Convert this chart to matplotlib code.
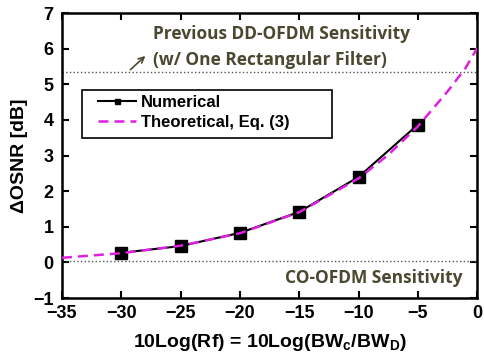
import matplotlib.pyplot as plt
from matplotlib.patches import Rectangle

# numerical result (squares)
rf_num = [-30, -25, -20, -15, -10, -5]
dosnr_num = [0.27, 0.46, 0.83, 1.42, 2.40, 3.87]

# theoretical curve, Eq. (3)
rf_theo = [-35, -30, -25, -20, -15, -10, -7.5, -5, -2.5, -1, 0]
dosnr_theo = [0.13, 0.26, 0.47, 0.82, 1.41, 2.36, 3.02, 3.82, 4.80, 5.45, 6.02]

dd_level = 5.34
co_level = 0.05

text_col = '#4a4830'

plt.rcParams['font.family'] = ['Liberation Sans', 'DejaVu Sans']
plt.rcParams['font.weight'] = 'bold'
plt.rcParams['mathtext.fontset'] = 'custom'
plt.rcParams['mathtext.rm'] = 'Liberation Sans:bold'
plt.rcParams['mathtext.bf'] = 'Liberation Sans:bold'

fig = plt.figure(figsize=(4.84, 3.54), dpi=100)
ax = fig.add_axes([0.128, 0.158, 0.858, 0.805])

ax.axhline(dd_level, color='#555555', ls=':', lw=1.0)
ax.axhline(co_level, color='#555555', ls=':', lw=1.0)

ax.plot(rf_num, dosnr_num, color='black', lw=1.5, marker='s', markersize=8,
        label='Numerical', zorder=3)
ax.plot(rf_theo, dosnr_theo, color='#e020e0', lw=1.8, ls=(0, (4, 2.4)),
        label='Theoretical, Eq. (3)', zorder=4)

annot_font = ['Open Sans', 'DejaVu Sans']
ax.text(-27.3, 6.42, 'Previous DD-OFDM Sensitivity', color=text_col,
        fontsize=12.5, fontweight='bold', family=annot_font,
        ha='left', va='center')
ax.text(-27.3, 5.68, '(w/ One Rectangular Filter)', color=text_col,
        fontsize=12.5, fontweight='bold', family=annot_font,
        ha='left', va='center')
ax.annotate('', xy=(-27.8, 5.85), xytext=(-29.4, 5.36),
            arrowprops=dict(arrowstyle='->', color=text_col, lw=1.2))
ax.text(-1.2, -0.45, 'CO-OFDM Sensitivity', color=text_col,
        fontsize=12.5, fontweight='bold', family=annot_font,
        ha='right', va='center')

ax.set_xlim(-35, 0)
ax.set_ylim(-1, 7)
ax.set_xticks(range(-35, 1, 5))
ax.set_yticks(range(-1, 8))
ax.tick_params(direction='in', top=True, right=True, labelsize=13,
               width=1.5, length=5)
ax.tick_params(axis='x', pad=5)
ax.tick_params(axis='y', pad=6)
for sp in ax.spines.values():
    sp.set_linewidth(1.8)

ax.set_xlabel(r'10Log(Rf) = 10Log(BW$_\mathrm{c}$/BW$_\mathrm{D}$)',
              fontsize=14, fontweight='bold', labelpad=7)
ax.set_ylabel('\u0394OSNR [dB]', fontsize=14, fontweight='bold', labelpad=4)

# the original legend box runs well past the text, so draw the box by hand
box = Rectangle((0.048, 0.56), 0.603, 0.171, transform=ax.transAxes,
                facecolor='white', edgecolor='black', lw=1.2, zorder=5)
ax.add_patch(box)
leg = ax.legend(loc='upper left', bbox_to_anchor=(0.07, 0.735),
                borderaxespad=0, fontsize=12, frameon=False,
                handlelength=2.3, handletextpad=0.3, borderpad=0.4,
                labelspacing=0.3, markerscale=0.45)
leg.set_zorder(6)

fig.savefig('out.png', dpi=100)
